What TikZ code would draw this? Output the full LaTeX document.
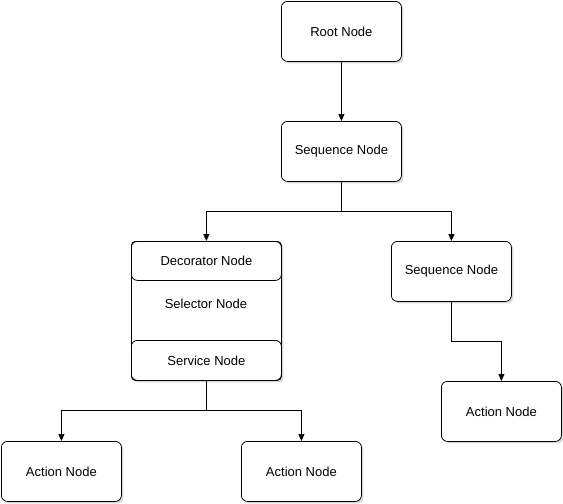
\documentclass[tikz,border=0pt]{standalone}
\usepackage{fontspec}
\setmainfont{Liberation Sans}
\usetikzlibrary{arrows.meta,shadows}
\begin{document}
\begin{tikzpicture}[x=1pt,y=-1pt,
  box/.style={draw=black,fill=white,rounded corners=6pt,line width=0.8pt,
    drop shadow={shadow xshift=2pt,shadow yshift=-2pt,fill=black!25,opacity=0.6}},
  sub/.style={draw=black,fill=white,rounded corners=6pt,line width=0.8pt},
  lbl/.style={font=\fontsize{13}{15}\selectfont},
  conn/.style={line width=0.8pt,-{Triangle[length=7pt,width=6pt]}},
  every node/.style={inner sep=0pt}]
\useasboundingbox (0,0) rectangle (563,504);
% boxes
\node[box,minimum width=120pt,minimum height=60pt,anchor=north west,lbl] (root) at (281,1) {Root Node};
\node[box,minimum width=120pt,minimum height=60pt,anchor=north west,lbl] (seq) at (281,121) {Sequence Node};
\node[box,minimum width=150pt,minimum height=139pt,anchor=north west,rounded corners=4pt] (outer) at (131,241) {};
\node[sub,minimum width=150pt,minimum height=39pt,anchor=north west,lbl] (dec) at (131,241) {Decorator Node};
\node[lbl] (sel) at (206,304) {Selector Node};
\node[sub,minimum width=150pt,minimum height=40pt,anchor=north west,lbl] (svc) at (131,340) {Service Node};
\node[box,minimum width=120pt,minimum height=60pt,anchor=north west,lbl] (seq2) at (391,241) {Sequence Node};
\node[box,minimum width=120pt,minimum height=60pt,anchor=north west,lbl] (act3) at (441,381) {Action Node};
\node[box,minimum width=120pt,minimum height=60pt,anchor=north west,lbl] (act1) at (1,441) {Action Node};
\node[box,minimum width=120pt,minimum height=60pt,anchor=north west,lbl] (act2) at (241,441) {Action Node};
% connectors
\draw[conn] (root.south) -- (seq.north);
\draw[conn] (seq.south) -- ++(0,30) -| (dec.north);
\draw[conn] (seq.south) -- ++(0,30) -| (seq2.north);
\draw[conn] (svc.south) -- ++(0,30) -| (act1.north);
\draw[conn] (svc.south) -- ++(0,30) -| (act2.north);
\draw[conn] (seq2.south) -- ++(0,40) -| (act3.north);
\end{tikzpicture}
\end{document}
